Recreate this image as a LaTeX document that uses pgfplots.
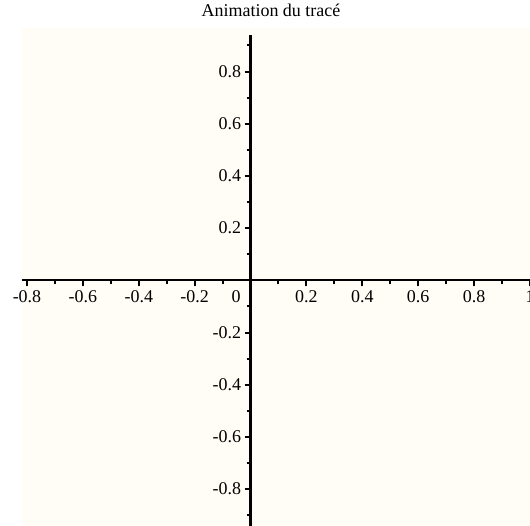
\documentclass[border=0pt]{standalone}
\usepackage{pgfplots}
\pgfplotsset{compat=1.18}
\usepackage{fontspec}
\setmainfont{Liberation Serif}
\definecolor{cream}{RGB}{255,253,246}
\begin{document}
\begin{tikzpicture}
\begin{axis}[
 x=280pt, y=261.5pt,
 xmin=-0.818, xmax=1.0, ymin=-0.94, ymax=0.967,
 axis lines=middle,
 axis line style={line width=2.2pt, -},
 every inner x axis line/.append style={line width=2.2pt, -},
 every inner y axis line/.append style={line width=2.2pt, -, shorten >=7pt},
 axis background/.style={fill=cream},
 hide obscured x ticks=false,
 hide obscured y ticks=false,
 xtick={-0.8,-0.6,-0.4,-0.2,0,0.2,0.4,0.6,0.8,1},
 xticklabels={-0.8,-0.6,-0.4,-0.2,{\makebox[0pt][r]{0\hspace{10pt}}},0.2,0.4,0.6,0.8,1},
 minor xtick={-0.7,-0.5,-0.3,-0.1,0.1,0.3,0.5,0.7,0.9},
 ytick={-0.8,-0.6,-0.4,-0.2,0.2,0.4,0.6,0.8},
 yticklabels={-0.8,-0.6,-0.4,-0.2,0.2,0.4,0.6,0.8},
 minor ytick={-0.9,-0.7,-0.5,-0.3,-0.1,0.1,0.3,0.5,0.7,0.9},
 tick align=outside,
 major tick length=6pt, minor tick length=4pt,
 major tick style={line width=2pt, black},
 minor tick style={line width=2pt, black},
 ticklabel style={font=\fontsize{18}{20}\selectfont},
 xticklabel style={yshift=-1pt},
 title={Animation du tracé},
 title style={at={(rel axis cs:0.5,1)}, anchor=base, yshift=5.5pt, xshift=-5pt, font=\fontsize{18}{20}\selectfont},
]
\end{axis}
\pgfresetboundingbox
\path[use as bounding box] ([xshift=-22pt]current axis.south west) rectangle ([yshift=28pt]current axis.north east);
\end{tikzpicture}
\end{document}
